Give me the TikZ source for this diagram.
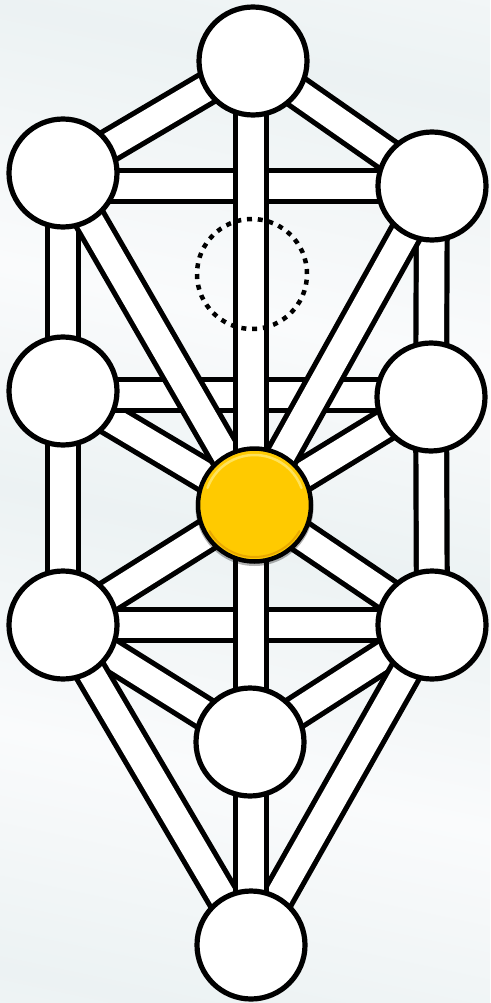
\documentclass[tikz,border=0pt]{standalone}
\definecolor{bgA}{RGB}{236,242,243}
\definecolor{bgB}{RGB}{250,251,252}
\definecolor{tifY}{RGB}{255,202,0}
\definecolor{tifD}{RGB}{232,168,0}
\definecolor{tifL}{RGB}{255,226,90}
\pgfdeclarehorizontalshading{bgstreak}{100bp}{color(0bp)=(bgA); color(12bp)=(bgB); color(22bp)=(bgA); color(35bp)=(bgB); color(48bp)=(bgA); color(60bp)=(bgB); color(74bp)=(bgA); color(88bp)=(bgB); color(100bp)=(bgA)}
\pgfdeclarelayer{backdrop}
\pgfdeclarelayer{paths}
\pgfsetlayers{backdrop,paths,main}
\newcommand\pathband[2]{%
  \draw[bandout] (#1.center) -- (#2.center);
  \draw[bandin] (#1.center) -- (#2.center);}
\begin{document}
\begin{tikzpicture}[x=1pt,y=-1pt,
  sefira/.style={circle, draw=black, line width=5.2pt, fill=white, minimum size=108pt, inner sep=0pt},
  hidden/.style={circle, draw=black, line width=4.5pt, dash pattern=on 5pt off 5.8pt, minimum size=110pt, inner sep=0pt},
  golden/.style={circle, draw=black, line width=4.5pt, fill=tifY, minimum size=113pt, inner sep=0pt},
  bandout/.style={line width=36pt, black, line cap=butt},
  bandin/.style={line width=25.6pt, white, line cap=butt}]
\useasboundingbox (0,0) rectangle (490,1003);
\begin{pgfonlayer}{backdrop}
  \shade[shading=bgstreak, shading angle=78] (0,0) rectangle (490,1003);
\end{pgfonlayer}

% sefirot
\node[sefira] (keter)   at (253,61)  {};
\node[sefira] (chokmah) at (432,186) {};
\node[sefira] (binah)   at (63,173)  {};
\node[sefira] (chesed)  at (431,397) {};
\node[sefira] (gevurah) at (63,391)  {};
\node[sefira] (netzach) at (432,625) {};
\node[sefira] (hod)     at (63,625)  {};
\node[sefira] (yesod)   at (250,742) {};
\node[sefira] (malkuth) at (251,945) {};
\fill[black, opacity=0.3] (254.5,507) circle (59pt);
\node[golden] (tiferet) at (254.5,505) {};
\draw[tifL, line width=2.5pt, line cap=round] ([shift={(254.5,505)}]200:50) arc[start angle=200, end angle=340, radius=50];
\draw[tifD, line width=2pt, line cap=round] ([shift={(254.5,505)}]30:52) arc[start angle=30, end angle=150, radius=52];
\node[hidden] (daat) at (252,274) {};

\begin{pgfonlayer}{paths}
  \pathband{keter}{binah}
  \pathband{keter}{chokmah}
  \pathband{binah}{gevurah}
  \pathband{chokmah}{chesed}
  \pathband{gevurah}{hod}
  \pathband{chesed}{netzach}
  \pathband{gevurah}{tiferet}
  \pathband{chesed}{tiferet}
  \pathband{hod}{tiferet}
  \pathband{netzach}{tiferet}
  \pathband{hod}{yesod}
  \pathband{netzach}{yesod}
  \pathband{hod}{malkuth}
  \pathband{netzach}{malkuth}
  \draw[bandout] (binah.center |- chokmah.center) -- (chokmah.center);
  \draw[bandin] (binah.center |- chokmah.center) -- (chokmah.center);
  \draw[bandout] (gevurah.center |- 0,395) -- (chesed.center |- 0,395);
  \draw[bandin] (gevurah.center |- 0,395) -- (chesed.center |- 0,395);
  \pathband{hod}{netzach}
  \pathband{binah}{tiferet}
  \pathband{chokmah}{tiferet}
  \draw[bandout] (keter.center -| 251,0) -- (tiferet.center -| 251,0);
  \draw[bandin] (keter.center -| 251,0) -- (tiferet.center -| 251,0);
  \draw[bandout] (tiferet.center -| 251,0) -- (yesod.center -| 251,0);
  \draw[bandin] (tiferet.center -| 251,0) -- (yesod.center -| 251,0);
  \draw[bandout] (yesod.center -| 251,0) -- (malkuth.center -| 251,0);
  \draw[bandin] (yesod.center -| 251,0) -- (malkuth.center -| 251,0);
\end{pgfonlayer}
\end{tikzpicture}
\end{document}
